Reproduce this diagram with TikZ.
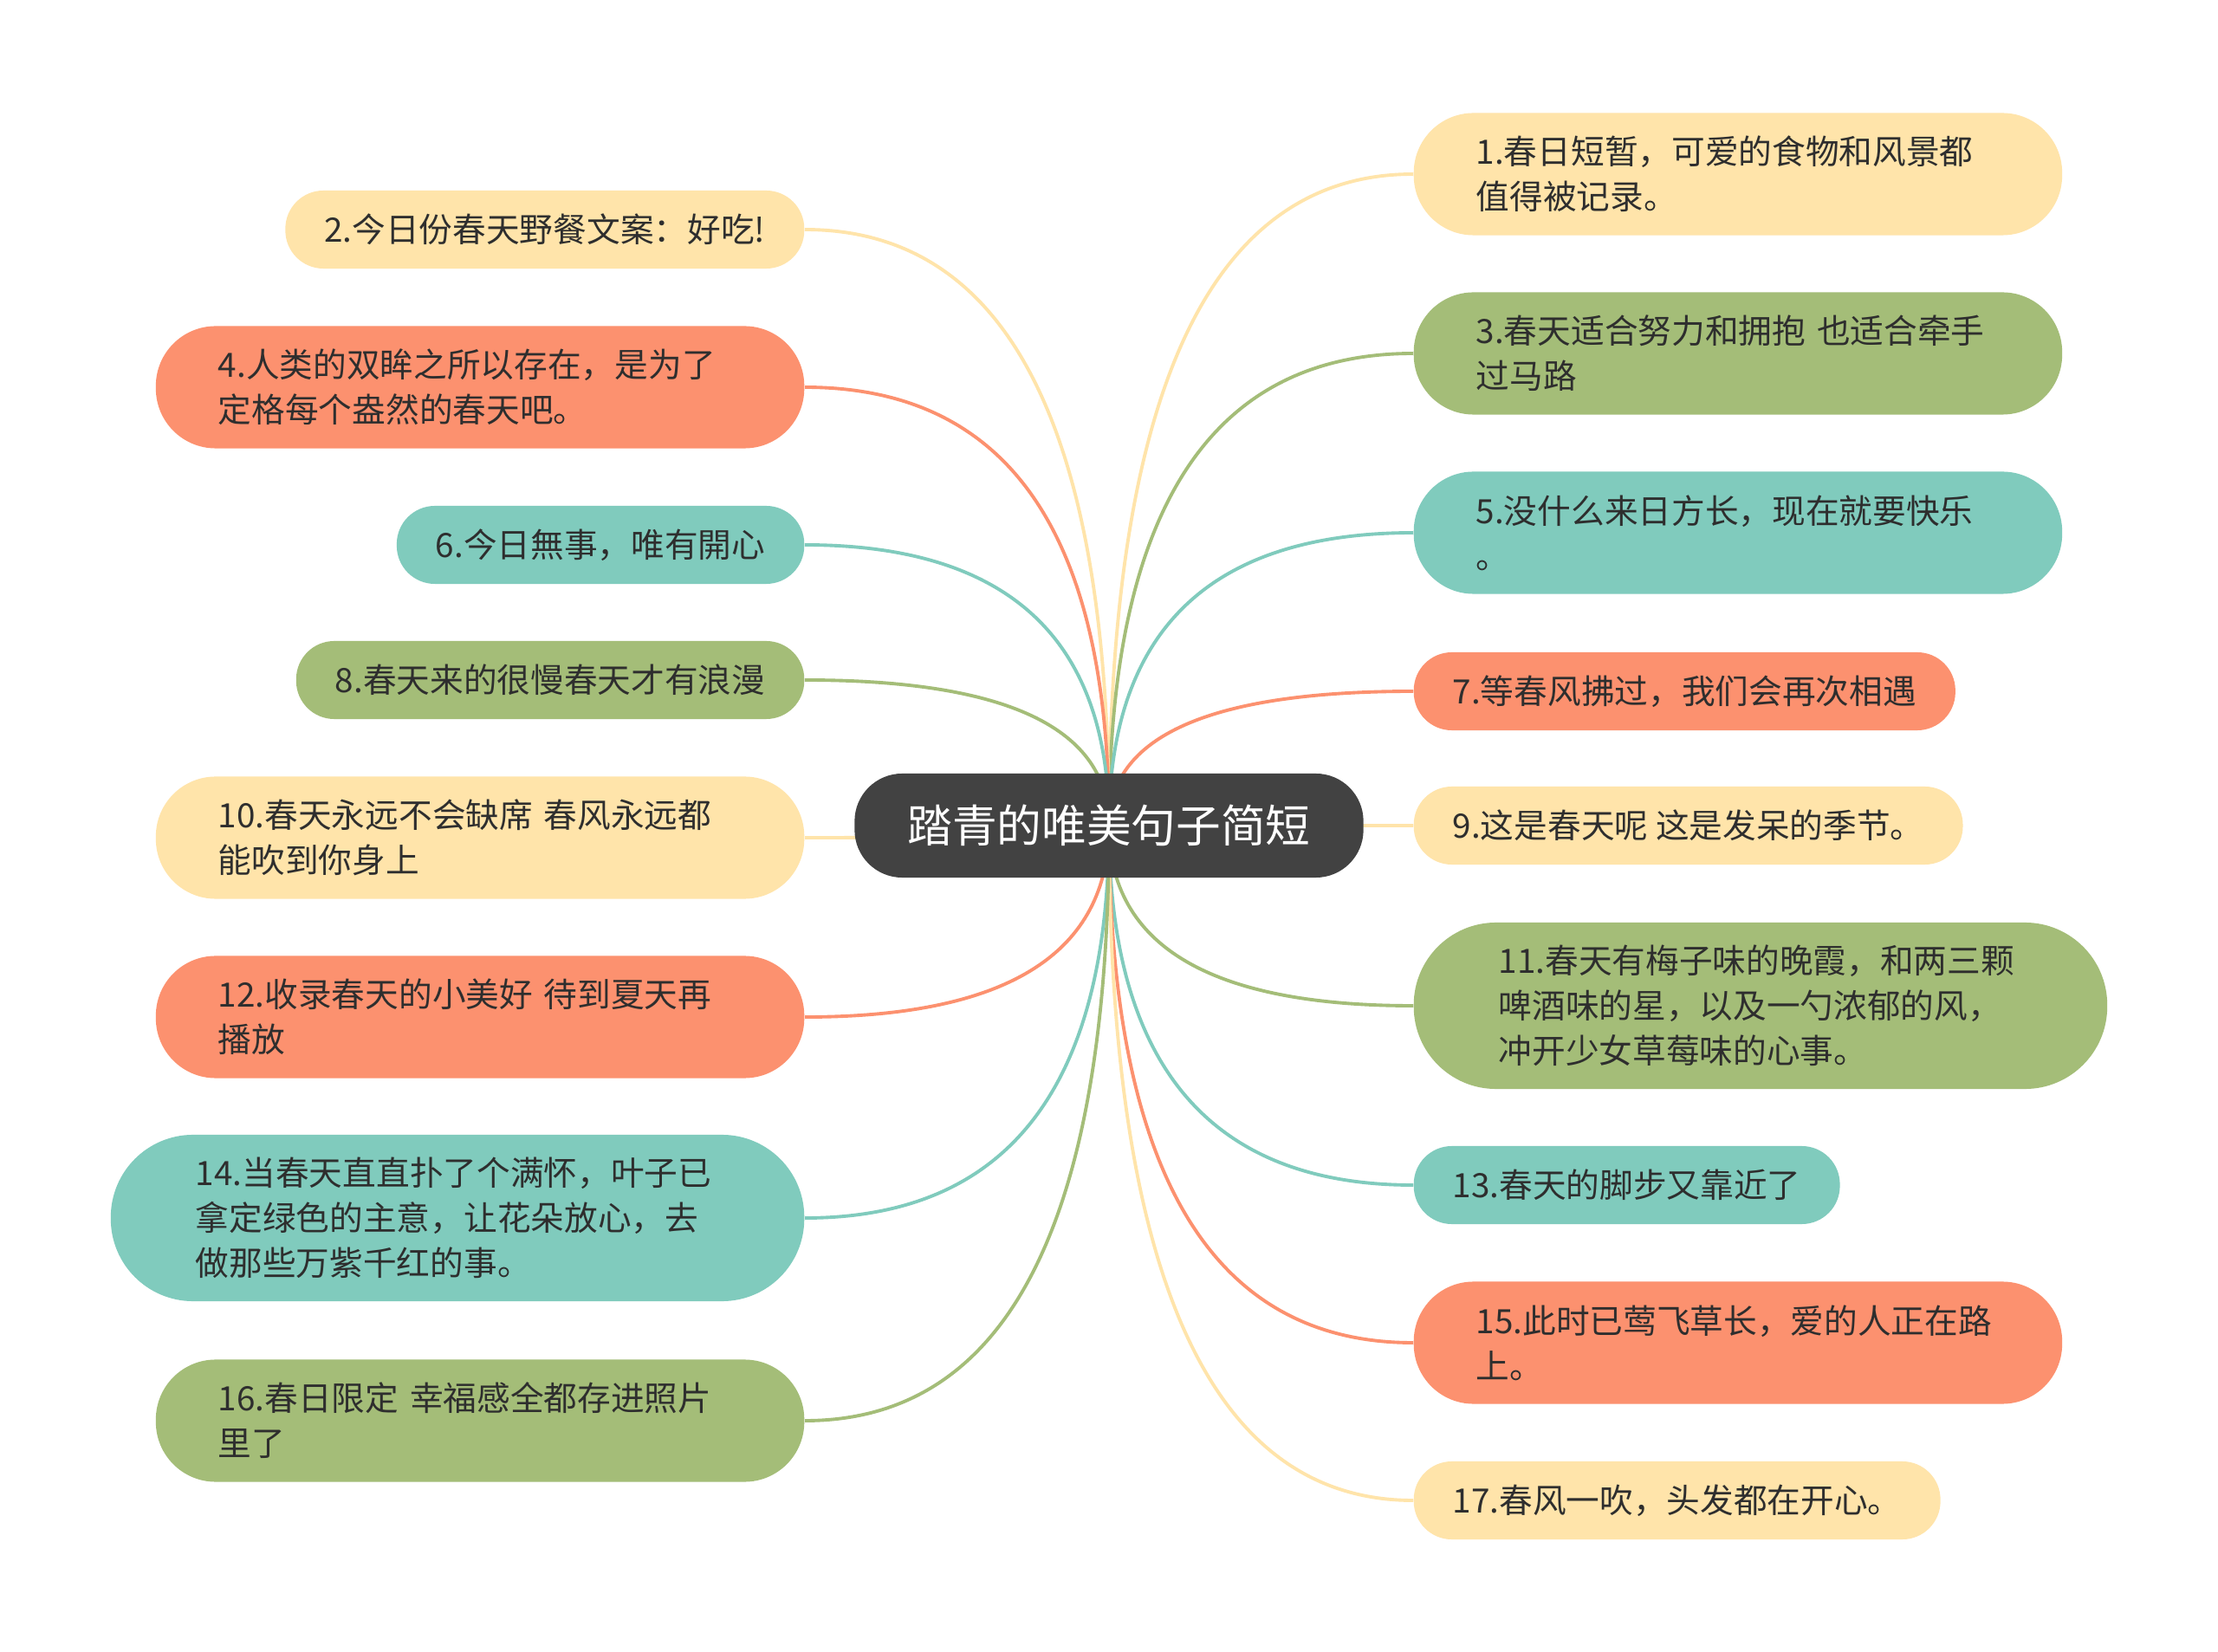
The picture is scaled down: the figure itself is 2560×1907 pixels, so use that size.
\documentclass[tikz,border=0pt]{standalone}
\usepackage{fontspec}
\setmainfont{Noto Sans CJK SC}
\usetikzlibrary{calc,backgrounds}

\definecolor{cyel}{HTML}{FFE4AA}
\definecolor{cred}{HTML}{FC916F}
\definecolor{cteal}{HTML}{80CBBD}
\definecolor{cgreen}{HTML}{A4BD78}
\definecolor{croot}{HTML}{424242}
\definecolor{ctext}{HTML}{2E2E2E}

\begin{document}
\begin{tikzpicture}[
    x=0.01cm, y=-0.01cm,
    every node/.style={font=\fontsize{11}{14.8}\selectfont, text=ctext, align=left, inner ysep=0pt},
    root/.style={fill=croot, text=white, rounded corners=0.55cm, minimum height=1.2cm, inner xsep=0.61cm, font=\fontsize{14.7}{18}\selectfont},
    one/.style={rounded corners=0.44cm, minimum height=0.9cm, inner xsep=0.45cm},
    two/.style={rounded corners=0.69cm, minimum height=1.41cm, inner xsep=0.72cm, text width=6.04cm},
    three/.style={rounded corners=0.95cm, minimum height=1.92cm, inner xsep=0.98cm, text width=6.04cm},
    link/.style={line width=1.1pt}
]

\useasboundingbox (0,0) rectangle (2560,1907);

\node [root] (root) at (1280,953) {踏青的唯美句子简短};

\node [two, fill=cyel, anchor=west] (n1) at (1631,201) {1.春日短暂，可爱的食物和风景都\\值得被记录。};
\node [two, fill=cgreen, anchor=west] (n3) at (1631,408) {3.春天适合努力和拥抱 也适合牵手\\过马路};
\node [two, fill=cteal, anchor=west] (n5) at (1631,615) {5.没什么来日方长，现在就要快乐\\。};
\node [one, fill=cred, anchor=west] (n7) at (1631,798) {7.等春风拂过，我们会再次相遇};
\node [one, fill=cyel, anchor=west] (n9) at (1631,953) {9.这是春天呢 这是发呆的季节。};
\node [three, fill=cgreen, anchor=west] (n11) at (1631,1161) {11.春天有梅子味的晚霞，和两三颗\\啤酒味的星，以及一勺浓郁的风，\\冲开少女草莓味的心事。};
\node [one, fill=cteal, anchor=west] (n13) at (1631,1368) {13.春天的脚步又靠近了};
\node [two, fill=cred, anchor=west] (n15) at (1631,1550) {15.此时已莺飞草长，爱的人正在路\\上。};
\node [one, fill=cyel, anchor=west] (n17) at (1631,1732) {17.春风一吹，头发都在开心。};

\node [one, fill=cyel, anchor=east] (n2) at (929,265) {2.今日份春天野餐文案：好吃!};
\node [two, fill=cred, anchor=east] (n4) at (929,447) {4.人类的双眸之所以存在，是为了\\定格每个盎然的春天吧。};
\node [one, fill=cteal, anchor=east] (n6) at (929,629) {6.今日無事，唯有開心};
\node [one, fill=cgreen, anchor=east] (n8) at (929,785) {8.春天来的很慢春天才有浪漫};
\node [two, fill=cyel, anchor=east] (n10) at (929,967) {10.春天永远不会缺席 春风永远都\\能吹到你身上};
\node [two, fill=cred, anchor=east] (n12) at (929,1174) {12.收录春天的小美好 待到夏天再\\播放};
\node [three, fill=cteal, anchor=east] (n14) at (929,1406) {14.当春天直直扑了个满怀，叶子已\\拿定绿色的主意，让花朵放心，去\\做那些万紫千红的事。};
\node [two, fill=cgreen, anchor=east] (n16) at (929,1640) {16.春日限定 幸福感全都存进照片\\里了};

\begin{scope}[on background layer]
\fill [white] (0,0) rectangle (2560,1907);
\foreach \n/\c in {n1/cyel, n3/cgreen, n5/cteal, n7/cred, n9/cyel, n11/cgreen, n13/cteal, n15/cred, n17/cyel}
    \draw [link, \c] (root.center) .. controls ($(root.center)!0.667!(root.center |- \n.west)$) and ($(\n.west)!0.667!(root.center |- \n.west)$) .. (\n.west);
\foreach \n/\c in {n2/cyel, n4/cred, n6/cteal, n8/cgreen, n10/cyel, n12/cred, n14/cteal, n16/cgreen}
    \draw [link, \c] (root.center) .. controls ($(root.center)!0.667!(root.center |- \n.east)$) and ($(\n.east)!0.667!(root.center |- \n.east)$) .. (\n.east);
\end{scope}

\end{tikzpicture}
\end{document}
